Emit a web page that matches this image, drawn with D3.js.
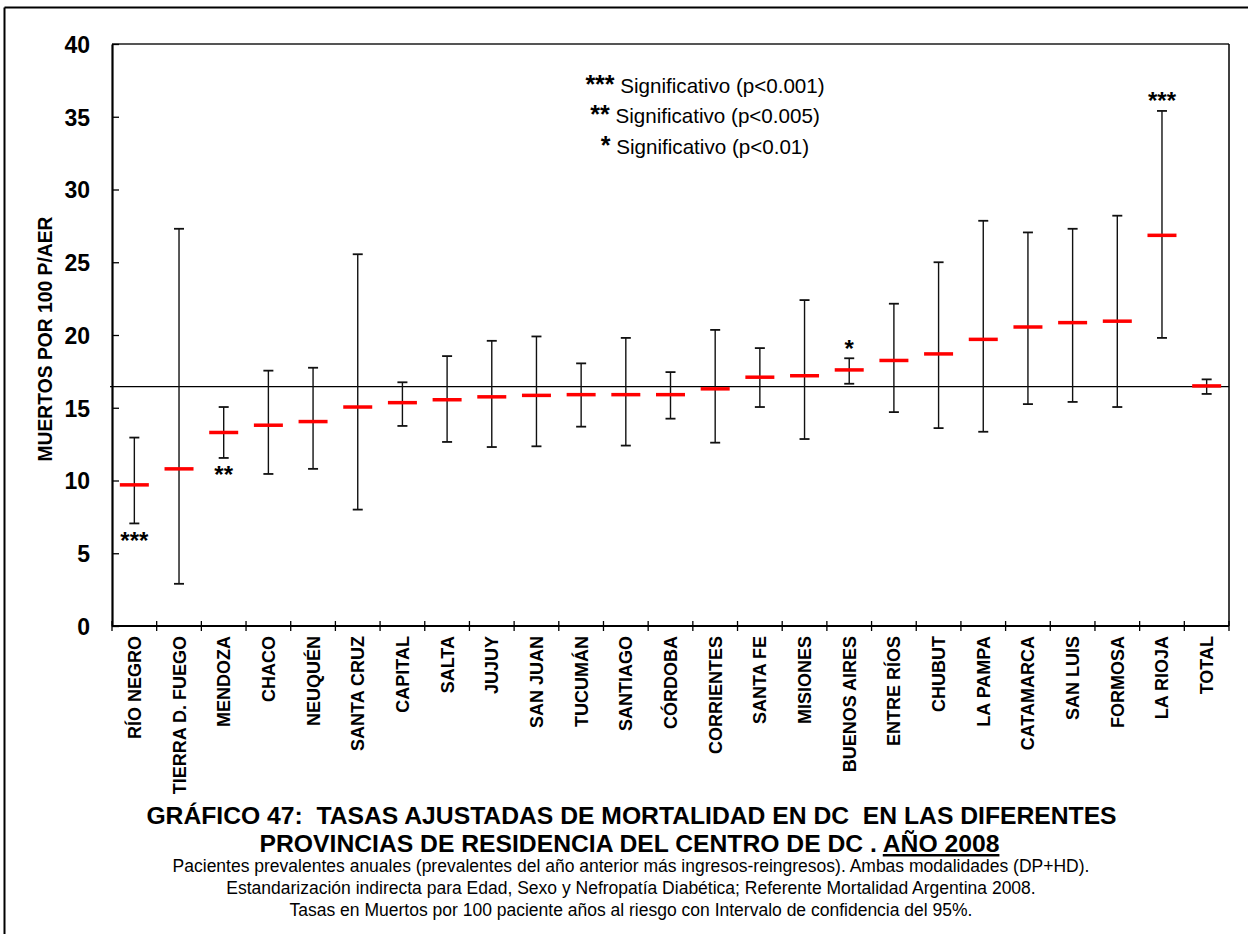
<!DOCTYPE html>
<html>
<head>
<meta charset="utf-8">
<script src="https://cdn.jsdelivr.net/npm/d3@7"></script>
<style>
  html, body { margin: 0; padding: 0; background: #fff; }
  svg { display: block; font-family: Arial, "Liberation Sans", sans-serif; }
</style>
</head>
<body>
<svg id="chart" width="1248" height="934"></svg>
<script>
const categories = ["RÍO NEGRO","TIERRA D. FUEGO","MENDOZA","CHACO","NEUQUÉN","SANTA CRUZ","CAPITAL","SALTA","JUJUY","SAN JUAN","TUCUMÁN","SANTIAGO","CÓRDOBA","CORRIENTES","SANTA FE","MISIONES","BUENOS AIRES","ENTRE RÍOS","CHUBUT","LA PAMPA","CATAMARCA","SAN LUIS","FORMOSA","LA RIOJA","TOTAL"];
const rates = [9.7,10.8,13.3,13.8,14.05,15.05,15.35,15.55,15.75,15.85,15.9,15.9,15.9,16.3,17.1,17.2,17.6,18.25,18.7,19.7,20.55,20.85,20.95,26.85,16.5];
const lower = [7.05,2.9,11.55,10.45,10.8,8.0,13.75,12.65,12.3,12.35,13.7,12.4,14.25,12.6,15.05,12.85,16.65,14.7,13.6,13.35,15.25,15.4,15.05,19.8,15.95];
const upper = [12.95,27.3,15.05,17.55,17.75,25.55,16.75,18.55,19.6,19.9,18.05,19.8,17.45,20.35,19.1,22.4,18.4,22.15,25.0,27.85,27.05,27.3,28.2,35.4,16.95];
const signif = ["***","","**","","","","","","","","","","","","","","*","","","","","","","***",""];
const referenceRate = 16.45;
const yTicks = [0,5,10,15,20,25,30,35,40];
const legendItems = [["***","Significativo (p<0.001)"],["**","Significativo (p<0.005)"],["*","Significativo (p<0.01)"]];
const titleLine1 = "GRÁFICO 47:  TASAS AJUSTADAS DE MORTALIDAD EN DC  EN LAS DIFERENTES";
const titleLine2a = "PROVINCIAS DE RESIDENCIA DEL CENTRO DE DC . ";
const titleLine2b = "AÑO 2008";
const subtitles = [
  "Pacientes prevalentes anuales (prevalentes del año anterior más ingresos-reingresos). Ambas modalidades (DP+HD).",
  "Estandarización indirecta para Edad, Sexo y Nefropatía Diabética; Referente Mortalidad Argentina 2008.",
  "Tasas en Muertos por 100 paciente años al riesgo con Intervalo de confidencia del 95%."
];
const yTitle = "MUERTOS POR 100 P/AER";

const data = categories.map((c, i) => ({cat: c, rate: rates[i], lo: lower[i], hi: upper[i], sig: signif[i]}));

const svg = d3.select("#chart");
const plotLeft = 112, plotRight = 1229, plotTop = 44, plotBottom = 626;

const x = d3.scaleBand().domain(categories).range([plotLeft, plotRight]).padding(0);
const y = d3.scaleLinear().domain([0, 40]).range([plotBottom, plotTop]);

// outer frame
svg.append("line").attr("x1", 4.5).attr("x2", 1248).attr("y1", 7.5).attr("y2", 7.5).attr("stroke", "#000").attr("stroke-width", 2);
svg.append("line").attr("x1", 4.5).attr("x2", 4.5).attr("y1", 7.5).attr("y2", 934).attr("stroke", "#000").attr("stroke-width", 2);

// plot frame top & right
svg.append("line").attr("x1", plotLeft).attr("x2", plotRight).attr("y1", y(40)).attr("y2", y(40)).attr("stroke", "#555").attr("stroke-width", 2);
svg.append("line").attr("x1", plotRight).attr("x2", plotRight).attr("y1", y(40)).attr("y2", y(0)).attr("stroke", "#000").attr("stroke-width", 1.5);

// y axis
const yAxis = d3.axisLeft(y).tickValues(yTicks).tickSizeInner(-7).tickSizeOuter(0).tickPadding(22).tickFormat(d3.format("d"));
const gy = svg.append("g").attr("transform", `translate(${plotLeft},0)`).call(yAxis);
gy.select(".domain").attr("stroke", "#000").attr("stroke-width", 2.2);
gy.selectAll(".tick line").attr("stroke", "#000").attr("stroke-width", 1.3);
gy.selectAll(".tick text").attr("font-size", 23).attr("font-weight", "bold").attr("fill", "#000")
  .attr("font-family", "Arial, 'Liberation Sans', sans-serif").attr("dy", "0.36em");

// reference line
svg.append("line").attr("x1", plotLeft - 2).attr("x2", plotRight).attr("y1", y(referenceRate)).attr("y2", y(referenceRate))
  .attr("stroke", "#000").attr("stroke-width", 1.3);

// x axis
svg.append("line").attr("x1", plotLeft).attr("x2", plotRight).attr("y1", y(0)).attr("y2", y(0)).attr("stroke", "#000").attr("stroke-width", 2);
const boundaries = categories.map(c => x(c)).concat([x(categories[categories.length - 1]) + x.bandwidth()]);
svg.append("g").selectAll("line").data(boundaries).join("line")
  .attr("x1", d => d).attr("x2", d => d).attr("y1", y(0) - 5).attr("y2", y(0) + 5)
  .attr("stroke", "#000").attr("stroke-width", 1.3);

svg.append("g").selectAll("text").data(categories).join("text")
  .attr("transform", d => `translate(${x(d) + x.bandwidth() / 2 + 6.5},${y(0) + 10}) rotate(-90)`)
  .attr("text-anchor", "end")
  .attr("font-size", 18).attr("font-weight", "bold").attr("fill", "#000")
  .text(d => d);

// error bars
const capW = 5;
const eb = svg.append("g").selectAll("g").data(data).join("g");
eb.append("line").attr("x1", d => x(d.cat) + x.bandwidth() / 2).attr("x2", d => x(d.cat) + x.bandwidth() / 2)
  .attr("y1", d => y(d.lo)).attr("y2", d => y(d.hi)).attr("stroke", "#111").attr("stroke-width", 1.4);
eb.append("line").attr("x1", d => x(d.cat) + x.bandwidth() / 2 - capW).attr("x2", d => x(d.cat) + x.bandwidth() / 2 + capW)
  .attr("y1", d => y(d.hi)).attr("y2", d => y(d.hi)).attr("stroke", "#111").attr("stroke-width", 1.8);
eb.append("line").attr("x1", d => x(d.cat) + x.bandwidth() / 2 - capW).attr("x2", d => x(d.cat) + x.bandwidth() / 2 + capW)
  .attr("y1", d => y(d.lo)).attr("y2", d => y(d.lo)).attr("stroke", "#111").attr("stroke-width", 1.8);

// rate markers
svg.append("g").selectAll("line").data(data).join("line")
  .attr("x1", d => x(d.cat) + x.bandwidth() / 2 - 14.5).attr("x2", d => x(d.cat) + x.bandwidth() / 2 + 14.5)
  .attr("y1", d => y(d.rate)).attr("y2", d => y(d.rate)).attr("stroke", "#ff0000").attr("stroke-width", 3.5);

// significance stars
svg.append("g").selectAll("text").data(data.filter(d => d.sig)).join("text")
  .attr("x", d => x(d.cat) + x.bandwidth() / 2)
  .attr("y", d => d.rate < referenceRate ? y(d.lo) + 12 + 13.5 : y(d.hi) - 15 + 13.5)
  .attr("text-anchor", "middle").attr("font-size", 24).attr("font-weight", "bold").attr("fill", "#000")
  .text(d => d.sig);

// legend
const lg = svg.append("g");
legendItems.forEach((it, i) => {
  const t = lg.append("text").attr("x", 705).attr("y", 92.5 + i * 30.8).attr("text-anchor", "middle").attr("fill", "#000");
  t.append("tspan").attr("font-size", 25).attr("font-weight", "bold").text(it[0]);
  t.append("tspan").attr("font-size", 20.6).text(" " + it[1]);
});

// y title
svg.append("text").attr("transform", "translate(52,339) rotate(-90)").attr("text-anchor", "middle")
  .attr("font-size", 19.3).attr("font-weight", "bold").attr("fill", "#000").text(yTitle);

// titles
svg.append("text").attr("x", 631.5).attr("y", 824).attr("text-anchor", "middle").attr("font-size", 24.7).attr("font-weight", "bold")
  .style("white-space", "pre").attr("fill", "#000").text(titleLine1);
const t2 = svg.append("text").attr("x", 629.5).attr("y", 852).attr("text-anchor", "middle").attr("font-size", 24.7).attr("font-weight", "bold")
  .style("white-space", "pre").attr("fill", "#000");
t2.append("tspan").text(titleLine2a);
t2.append("tspan").attr("text-decoration", "underline").style("text-decoration", "underline").text(titleLine2b);

svg.append("g").selectAll("text").data(subtitles).join("text")
  .attr("x", 631).attr("y", (d, i) => 872 + i * 22).attr("text-anchor", "middle")
  .attr("font-size", 17.5).attr("fill", "#000").text(d => d);
</script>
</body>
</html>
